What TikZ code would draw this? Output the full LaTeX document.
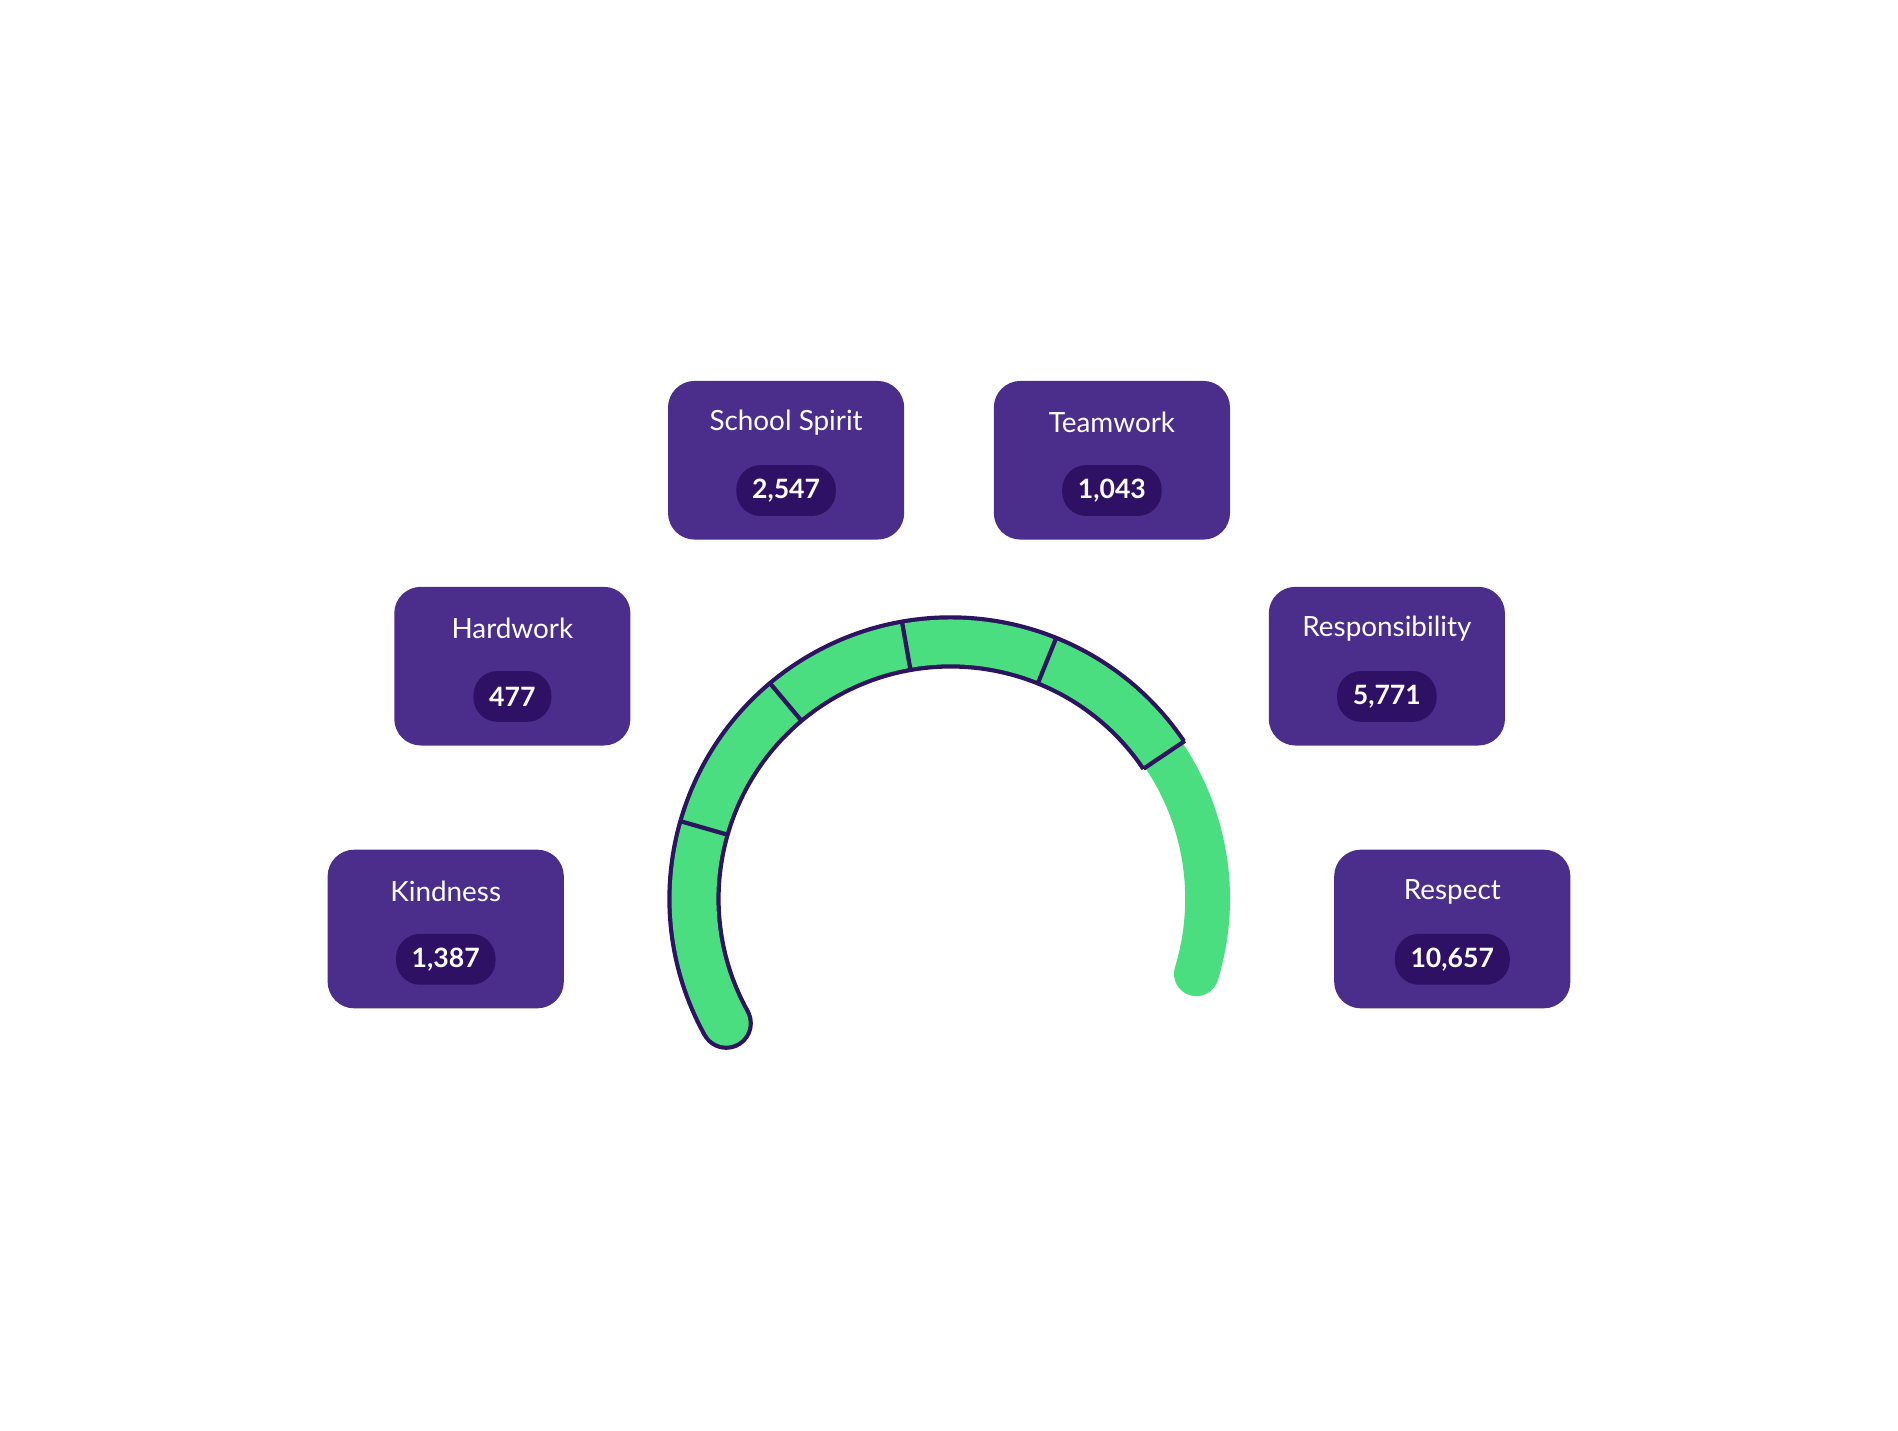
\documentclass[tikz,border=0pt]{standalone}
\usepackage{fontspec}
\setmainfont{Lato}
\usetikzlibrary{positioning}
\definecolor{boxpurple}{HTML}{4B2D8C}
\definecolor{pilldark}{HTML}{2E1065}
\definecolor{gaugegreen}{HTML}{4ADE80}
\definecolor{rimdark}{HTML}{2D1460}
\begin{document}
\begin{tikzpicture} [x=1pt, y=1pt, font=\fontsize{23}{26}\selectfont,
	box/.style = {fill=boxpurple, rounded corners=22pt, minimum width=195pt, minimum height=131pt, inner sep=0pt},
	title/.style = {text=white},
	pill/.style = {fill=pilldark, text=white, rounded corners=20pt, minimum height=42pt, inner xsep=13pt, font=\fontsize{22}{25}\selectfont\bfseries}]
		\useasboundingbox (0,-3) rectangle (1567,1178);
		\coordinate (c) at (785,436);

		% Gauge: dark rim first, then the green band on top
		\draw [rimdark, line width=44pt] ([shift={(209:212)}]c) arc [start angle=209, end angle=34, radius=212];
		\fill [rimdark] ([shift={(209:212)}]c) circle (22);
		\draw [gaugegreen, line width=37pt, line cap=round] ([shift={(209:212)}]c) arc [start angle=209, end angle=-17, radius=212];
		\foreach \a in {164, 130, 100, 68, 34}
			\draw [rimdark, line width=3.5pt] ([shift={(\a:192)}]c) -- ([shift={(\a:233)}]c);

		% Value boxes
		\node (spirit) [box] at (649,798) {};
		\node (team) [box] at (918,798) {};
		\node (hard) [box] at (423,628) {};
		\node (resp) [box] at (1145,628) {};
		\node (kind) [box] at (368,411) {};
		\node (respect) [box] at (1199,411) {};

		% Labels and counts
		\foreach \n/\t/\v in {spirit/School Spirit/{2,547}, team/Teamwork/{1,043}, hard/Hardwork/477,
			resp/Responsibility/{5,771}, kind/Kindness/{1,387}, respect/Respect/{10,657}} {
			\node (\n-t) [title] at ([yshift=31pt]\n.center) {\t};
			\node (\n-v) [pill] at ([yshift=-25pt]\n.center) {\v};
		}
	\end{tikzpicture}
\end{document}
